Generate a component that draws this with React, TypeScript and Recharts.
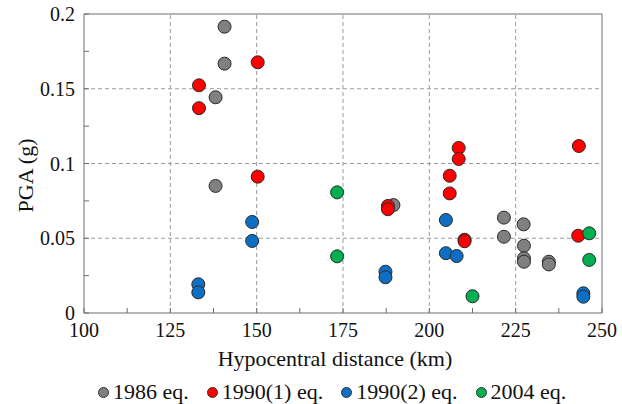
import React from "react";
import {
  ScatterChart,
  Scatter,
  XAxis,
  YAxis,
  ReferenceLine,
  Label,
} from "recharts";

// hypocentral distance (km) / PGA (g) per event
const eq1986X = [140.7, 140.7, 138.1, 138.1, 189.6, 221.6, 221.6, 227.3, 227.4, 227.4, 227.4, 234.6, 234.6];
const eq1986Y = [0.1915, 0.1668, 0.1443, 0.085, 0.0722, 0.0638, 0.051, 0.0593, 0.045, 0.0366, 0.0343, 0.0343, 0.0325];

const eq1990aX = [133.3, 133.3, 150.3, 150.3, 208.5, 208.5, 205.9, 205.9, 243.3, 188.0, 188.0, 210.2, 210.2, 243.1];
const eq1990aY = [0.1523, 0.137, 0.1677, 0.0912, 0.1104, 0.103, 0.0918, 0.08, 0.1117, 0.0716, 0.0694, 0.049, 0.048, 0.0517];

const eq1990bX = [133.1, 133.1, 148.7, 148.7, 187.3, 187.3, 204.8, 204.8, 207.9, 244.6, 244.6];
const eq1990bY = [0.0192, 0.0138, 0.0609, 0.0482, 0.0276, 0.0239, 0.0622, 0.04, 0.0381, 0.0132, 0.0109];

const eq2004X = [173.3, 173.3, 212.5, 246.3, 246.3];
const eq2004Y = [0.0807, 0.0379, 0.0112, 0.0533, 0.0355];

const xTicks = [100, 112.5, 125, 137.5, 150, 162.5, 175, 187.5, 200, 212.5, 225, 237.5, 250];
const xLabels = [100, 125, 150, 175, 200, 225, 250];
const yTicks = [0, 0.025, 0.05, 0.075, 0.1, 0.125, 0.15, 0.175, 0.2];
const yLabels: Record<string, string> = { "0": "0", "0.05": "0.05", "0.1": "0.1", "0.15": "0.15", "0.2": "0.2" };
const xGrid = [125, 150, 175, 200, 225];
const yGrid = [0.05, 0.1, 0.15];

const series = [
  { name: "1986 eq.", xs: eq1986X, ys: eq1986Y, color: "#808080" },
  { name: "1990(1) eq.", xs: eq1990aX, ys: eq1990aY, color: "#ff0000" },
  { name: "1990(2) eq.", xs: eq1990bX, ys: eq1990bY, color: "#0d6fc4" },
  { name: "2004 eq.", xs: eq2004X, ys: eq2004Y, color: "#00b050" },
];

const FONT = '"Liberation Serif", "Times New Roman", serif';
const AXIS = "#6e6e6e";

const dot = (fill: string) => (props: any) =>
  <circle cx={props.cx} cy={props.cy} r={6.5} fill={fill} stroke="#2a2a2a" strokeWidth={1} />;

export default function App() {
  return (
    <div style={{ position: "absolute", left: 0, top: 0, width: 622, height: 404, background: "#fff", fontFamily: FONT }}>
      <ScatterChart width={622} height={404} margin={{ top: 14, right: 20, left: 0, bottom: 0 }} style={{ fontFamily: FONT }}>
        <XAxis
          dataKey="x"
          type="number"
          domain={[100, 250]}
          ticks={xTicks}
          interval={0}
          height={91}
          tickSize={-5}
          tickMargin={15}
          tickFormatter={(v) => (xLabels.includes(v) ? String(v) : "")}
          tick={{ fill: "#111", fontSize: 20, style: { fontFamily: FONT } }}
          stroke={AXIS}
        >
          <Label
            content={(p: any) => (
              <text x={p.viewBox.x + p.viewBox.width / 2 - 8} y={p.viewBox.y + 53} textAnchor="middle" fontSize={22} fill="#111" style={{ fontFamily: FONT }}>
                Hypocentral distance (km)
              </text>
            )}
          />
        </XAxis>
        <YAxis
          dataKey="y"
          type="number"
          domain={[0, 0.2]}
          ticks={yTicks}
          interval={0}
          width={84}
          tickSize={-5}
          tickMargin={14}
          tickFormatter={(v) => yLabels[String(v)] ?? ""}
          tick={{ fill: "#111", fontSize: 20, style: { fontFamily: FONT } }}
          stroke={AXIS}
        >
          <Label
            content={(p: any) => {
              const cx = p.viewBox.x + 25;
              const cy = p.viewBox.y + p.viewBox.height / 2 + 12;
              return (
                <text x={cx} y={cy} transform={`rotate(-90 ${cx} ${cy})`} textAnchor="middle" dominantBaseline="central" fontSize={22} fill="#111" style={{ fontFamily: FONT }}>
                  PGA (g)
                </text>
              );
            }}
          />
        </YAxis>
        {xGrid.map((v) => (
          <ReferenceLine key={"gx" + v} x={v} stroke="#9a9a9a" strokeDasharray="4 3" />
        ))}
        {yGrid.map((v) => (
          <ReferenceLine key={"gy" + v} y={v} stroke="#9a9a9a" strokeDasharray="4 3" />
        ))}
        <ReferenceLine y={0.2} stroke={AXIS} />
        <ReferenceLine x={250} stroke={AXIS} />
        {series.map((s) => (
          <Scatter
            key={s.name}
            name={s.name}
            data={s.xs.map((x, i) => ({ x, y: s.ys[i] }))}
            shape={dot(s.color)}
            isAnimationActive={false}
          />
        ))}
      </ScatterChart>
      <div style={{ position: "absolute", left: 98, top: 381, display: "flex", alignItems: "center", fontSize: 22, lineHeight: "22px", color: "#111", whiteSpace: "nowrap", fontFamily: FONT }}>
        {series.map((s) => (
          <div key={s.name} style={{ display: "flex", alignItems: "center", marginRight: 18 }}>
            <span style={{ width: 9, height: 9, borderRadius: "50%", background: s.color, border: "1px solid #333", marginRight: 4, display: "inline-block" }} />
            <span>{s.name}</span>
          </div>
        ))}
      </div>
    </div>
  );
}
